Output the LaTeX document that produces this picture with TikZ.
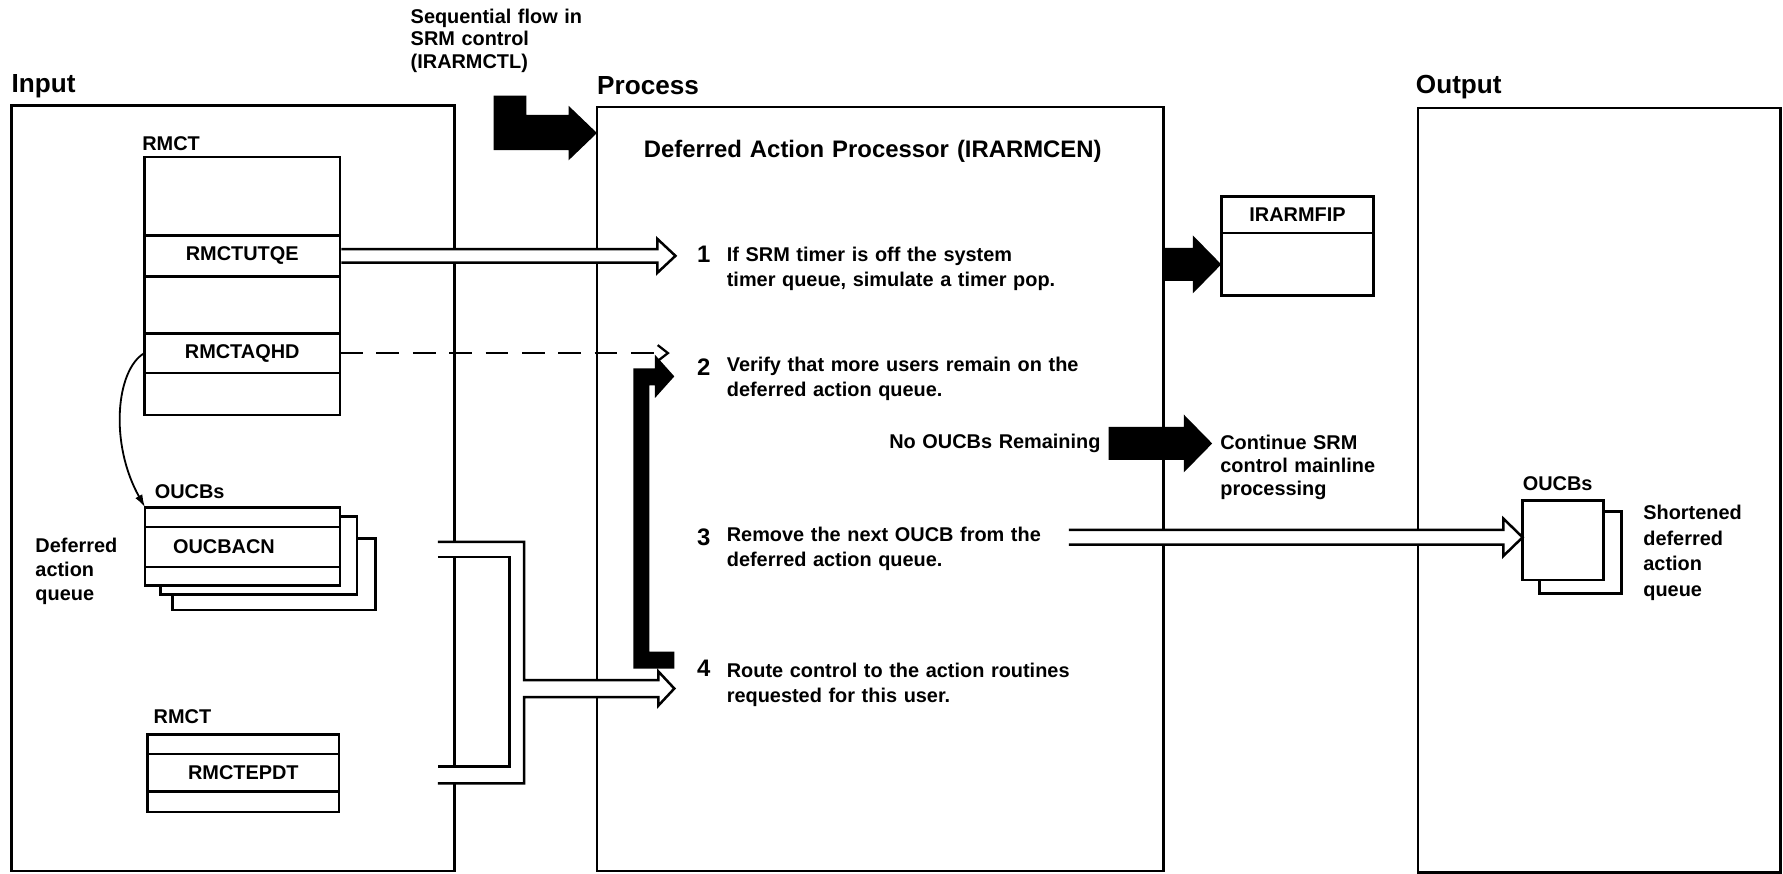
\documentclass[tikz,border=0pt]{standalone}
\usepackage{fontspec}
\setmainfont{Liberation Sans}[WordSpace=1.2]
\usetikzlibrary{arrows.meta,calc,positioning}

% outlined arrow: #1 start, #2 tip, #3 half pipe, #4 half head, #5 head length
\newcommand{\hollowarrow}[5]{%
  \draw[pipe] ($(#1)+(0,-#3)$) -- ($(#2)+(-#5,-#3)$) -- ($(#2)+(-#5,-#4)$) -- (#2)
    -- ($(#2)+(-#5,#4)$) -- ($(#2)+(-#5,#3)$) -- ($(#1)+(0,#3)$);
}
% solid black arrow: #1 start, #2 tip
\newcommand{\blockarrow}[2]{%
  \fill ($(#1)+(0,-14.5)$) -- ($(#2)+(-25,-14.5)$) -- ($(#2)+(-25,-25.5)$) -- (#2)
    -- ($(#2)+(-25,25.5)$) -- ($(#2)+(-25,14.5)$) -- ($(#1)+(0,14.5)$) -- cycle;
}

\begin{document}
\begin{tikzpicture}[
  x=1pt,y=-1pt,
  panel/.style={draw, line width=2.4pt, inner sep=0pt, outer sep=0pt, anchor=north west},
  row/.style={draw, line width=2.4pt, inner sep=0pt, outer sep=0pt,
    font=\fontsize{17.5}{20}\selectfont\bfseries},
  pipe/.style={draw, line width=2.2pt, fill=white, line join=miter},
  heading/.style={font=\fontsize{23}{26}\selectfont\bfseries, anchor=base west, inner sep=0pt},
  txt/.style={font=\fontsize{17.5}{#1}\selectfont\bfseries, align=left, anchor=north west, inner sep=0pt},
  txt/.default=22,
  stepno/.style={font=\fontsize{21}{24}\selectfont\bfseries, anchor=north east, inner sep=0pt},
  lbl/.style={font=\fontsize{17.5}{20}\selectfont\bfseries, anchor=west, inner sep=0pt},
  dashline/.style={line width=2pt, dash pattern=on 20pt off 12pt,
    -{Straight Barb[length=9pt,width=14pt]}}
]
\useasboundingbox (0,0) rectangle (1568,768);

% Headings
\node[heading] (input) at (10,81) {Input};
\node[heading] (process) at (525,83) {Process};
\node[heading] (output) at (1245,82) {Output};
\node[txt=19.5] (seqflow) at (361,8) {Sequential flow in\\SRM control\\(IRARMCTL)};

% Panels
\node[panel, minimum width=390pt, minimum height=673pt] (inbox) at (10,93) {};
\node[panel, minimum width=498pt, minimum height=672pt] (procbox) at (525,94) {};
\node[panel, minimum width=319pt, minimum height=672pt] (outbox) at (1247,95) {};

% Input: RMCT
\node[lbl] (rmctlbl) at (125,126) {RMCT};
\node[row, minimum width=172pt, minimum height=69pt, anchor=north] (rmct0) at (213,138) {};
\node[row, minimum width=172pt, minimum height=36pt, below=0pt of rmct0] (utqe) {RMCTUTQE};
\node[row, minimum width=172pt, minimum height=50pt, below=0pt of utqe] (rmct2) {};
\node[row, minimum width=172pt, minimum height=35pt, below=0pt of rmct2] (aqhd) {RMCTAQHD};
\node[row, minimum width=172pt, minimum height=37pt, below=0pt of aqhd] (rmct4) {};

% Input: OUCB queue
\draw[line width=2.4pt, fill=white] (152,473.5) rectangle (330,536.5);
\draw[line width=2.4pt, fill=white] (141,454.5) rectangle (314,523);
\fill[white] (127.5,446) rectangle (299,514.6);
\node[lbl] (oucbslbl) at (136,432.5) {OUCBs};
\node[row, minimum width=171.5pt, minimum height=17.4pt, anchor=north] (oucb0) at (213.25,446) {};
\node[row, minimum width=171.5pt, minimum height=35.2pt, text width=122pt, align=left,
  below=0pt of oucb0] (oucbacn) {OUCBACN};
\node[row, minimum width=171.5pt, minimum height=16pt, below=0pt of oucbacn] (oucb2) {};
\node[txt=21] (defq) at (31,473) {Deferred\\action\\queue};

% Input: RMCT (entry points)
\node[lbl] (rmctlbl2) at (135,630) {RMCT};
\node[row, minimum width=168pt, minimum height=17pt, anchor=north] (epdt0) at (214,646) {};
\node[row, minimum width=168pt, minimum height=33pt, below=0pt of epdt0] (epdt) {RMCTEPDT};
\node[row, minimum width=168pt, minimum height=18pt, below=0pt of epdt] (epdt2) {};

% Output side boxes
\node[row, minimum width=134pt, minimum height=32pt, anchor=north] (fip) at (1141,173) {IRARMFIP};
\node[row, minimum width=134pt, minimum height=55pt, below=0pt of fip] (fipbody) {};
\draw[line width=2.4pt, fill=white] (1354,450) rectangle (1426,522);
\node[row, fill=white, minimum width=71pt, minimum height=70pt, anchor=north west] (oq) at (1339,440) {};
\node[lbl] (oqlbl) at (1339,425) {OUCBs};
\node[txt=22.5] (shortq) at (1445,444) {Shortened\\deferred\\action\\queue};

% Process steps
\node[font=\fontsize{21}{24}\selectfont\bfseries, anchor=west, inner sep=0pt] (title)
  at (566,133) {Deferred Action Processor (IRARMCEN)};
\node[stepno] (n1) at (625,216.5) {1};
\node[txt] (st1) at (639,217) {If SRM timer is off the system\\timer queue, simulate a timer pop.};
\node[stepno] (n2) at (625,315.5) {2};
\node[txt] (st2) at (639,314) {Verify that more users remain on the\\deferred action queue.};
\node[stepno] (n3) at (625,464.5) {3};
\node[txt] (st3) at (639,463) {Remove the next OUCB from the\\deferred action queue.};
\node[stepno] (n4) at (625,580.5) {4};
\node[txt] (st4) at (639,583) {Route control to the action routines\\requested for this user.};
\node[lbl, anchor=east] (nooucb) at (968,390) {No OUCBs Remaining};
\node[txt=20.5] (cont) at (1073,382) {Continue SRM\\control mainline\\processing};

% Connectors
\coordinate (s1) at (594,225);
\hollowarrow{[xshift=1.2pt]utqe.east}{s1}{6}{15}{16}
\coordinate (s2) at (589,310.5);
\draw[dashline] (aqhd.east) -- (s2);
\draw[line width=1.6pt, -{Latex[length=11pt,width=7pt]}]
  (aqhd.west) .. controls (102,325) and (96,390) .. (oucb0.north west);

\coordinate (s3) at (940,472.5);
\coordinate (s3tip) at ([yshift=2.5pt]oq.west);
\hollowarrow{s3}{s3tip}{6.5}{16.5}{17}

% merged pipe from the OUCBs and RMCTEPDT to step 4
\coordinate (s4) at (593,605.5);
\fill[white, even odd rule]
  (385,476.5) -- (461,476.5) -- (461,598) -- (579,598) -- (579,590.5) -- (s4)
  -- (579,620.5) -- (579,613) -- (461,613) -- (461,689) -- (385,689) -- cycle
  (385,490) -- (448,490) -- (448,674) -- (385,674) -- cycle;
\draw[pipe, fill=none]
  (385,476.5) -- (461,476.5) -- (461,598) -- (579,598) -- (579,590.5) -- (s4)
  -- (579,620.5) -- (579,613) -- (461,613) -- (461,689) -- (385,689);
\draw[pipe, fill=none] (385,490) -- (448,490) -- (448,674) -- (385,674);

% Solid flow arrows
\fill (434,84) -- (463,84) -- (463,101) -- (500,101) -- (500,93) -- (525,117)
  -- (500,141) -- (500,132) -- (434,132) -- cycle;
\coordinate (fipfrom) at (procbox.east |- fipbody.west);
\blockarrow{fipfrom}{fipbody.west}
\coordinate (nofrom) at ([xshift=7pt]nooucb.east);
\coordinate (noto) at (1066,390);
\blockarrow{nofrom}{noto}

% loop back from step 4 to step 2
\fill (593,573) -- (571,573) -- (571,339) -- (576,339) -- (576,350) -- (593,331)
  -- (576,312) -- (576,324) -- (557,324) -- (557,588) -- (593,588) -- cycle;

\end{tikzpicture}
\end{document}
